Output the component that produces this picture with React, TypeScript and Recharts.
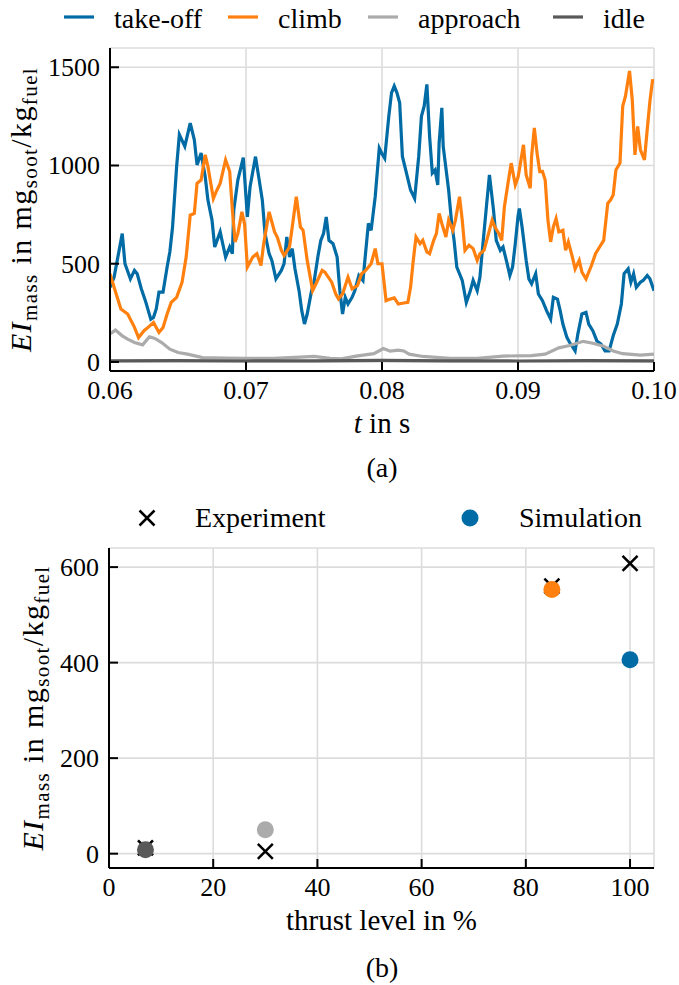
import React from "react";
import {
  LineChart,
  Line,
  XAxis,
  YAxis,
  CartesianGrid,
  ScatterChart,
  Scatter,
  Cell,
} from "recharts";

const FONT = "'Liberation Serif', 'Times New Roman', serif";
const TXT = { fontFamily: FONT };

// ---- (a) time series ----
const SERIES_NAMES = ["take-off", "climb", "approach", "idle"];
const SERIES_COLORS = ["#006BA4", "#FF800E", "#ABABAB", "#595959"];
const T_TICKS = [0.06, 0.07, 0.08, 0.09, 0.1];
const EI_TICKS_A = [0, 500, 1000, 1500];

// [t in s, EI in mg/kg]
const TAKE_OFF: [number, number][] = [
  [0.06, 380], [0.0603, 431], [0.0609, 653], [0.0611, 500], [0.0615, 423], [0.0618, 466],
  [0.062, 449], [0.0623, 373], [0.0626, 312], [0.063, 218], [0.0632, 227], [0.0634, 270],
  [0.0636, 355], [0.0639, 355], [0.0642, 483], [0.0644, 560], [0.0646, 687], [0.0649, 995],
  [0.0651, 1157], [0.0655, 1097], [0.0659, 1216], [0.0662, 1131], [0.0664, 1003], [0.0667, 1063],
  [0.067, 943], [0.0672, 824], [0.0675, 722], [0.0677, 585], [0.0681, 662], [0.0685, 534],
  [0.0688, 585], [0.069, 551], [0.0691, 773], [0.0694, 926], [0.0698, 1040], [0.0701, 738],
  [0.0703, 892], [0.0707, 1045], [0.0712, 824], [0.0714, 653], [0.0717, 551], [0.0719, 517],
  [0.0722, 423], [0.0726, 466], [0.0728, 500], [0.073, 636], [0.0732, 534], [0.0734, 577],
  [0.0736, 474], [0.0739, 363], [0.0741, 261], [0.0743, 193], [0.0745, 244], [0.0748, 355],
  [0.075, 406], [0.0753, 542], [0.0755, 619], [0.0757, 653], [0.0759, 738], [0.0761, 619],
  [0.0764, 602], [0.0767, 534], [0.0769, 363], [0.0771, 244], [0.0773, 329], [0.0775, 295],
  [0.0778, 329], [0.078, 363], [0.0783, 440], [0.0786, 415], [0.079, 705], [0.0792, 670],
  [0.0795, 841], [0.0798, 1088], [0.08, 1060], [0.0802, 1037], [0.0805, 1250], [0.0807, 1370],
  [0.0809, 1404], [0.0811, 1370], [0.0813, 1319], [0.0815, 1046], [0.0818, 961], [0.0821, 875],
  [0.0824, 832], [0.0827, 1046], [0.0829, 1250], [0.0831, 1302], [0.0833, 1413], [0.0835, 1148],
  [0.0837, 961], [0.0839, 977], [0.0841, 901], [0.0842, 1114], [0.0844, 1293], [0.0845, 1097],
  [0.0849, 875], [0.0851, 722], [0.0853, 619], [0.0855, 483], [0.0859, 415], [0.0862, 303],
  [0.0865, 363], [0.0867, 415], [0.087, 363], [0.0872, 431], [0.0874, 585], [0.0877, 807],
  [0.0879, 952], [0.0882, 773], [0.0884, 619], [0.0887, 568], [0.0889, 585], [0.0892, 500],
  [0.0894, 440], [0.0896, 483], [0.0898, 602], [0.09, 740], [0.0901, 781], [0.0903, 687],
  [0.0906, 517], [0.0908, 423], [0.091, 398], [0.0913, 449], [0.0915, 346], [0.0918, 312],
  [0.0921, 261], [0.0924, 218], [0.0926, 329], [0.0929, 320], [0.0931, 261], [0.0933, 193],
  [0.0936, 124], [0.0938, 99], [0.0942, 56], [0.0944, 142], [0.0947, 244], [0.095, 252],
  [0.0952, 193], [0.0955, 159], [0.0958, 107], [0.0961, 91], [0.0964, 56], [0.0967, 56],
  [0.097, 133], [0.0973, 193], [0.0976, 295], [0.0978, 449], [0.0981, 474], [0.0983, 406],
  [0.0985, 449], [0.0987, 380], [0.099, 406], [0.0992, 415], [0.0995, 440], [0.0997, 423],
  [0.1, 363],
];

const CLIMB: [number, number][] = [
  [0.06, 449], [0.0603, 380], [0.0608, 270], [0.0613, 244], [0.0618, 176], [0.0621, 124],
  [0.0625, 159], [0.0628, 176], [0.0632, 201], [0.0636, 150], [0.0639, 176], [0.0642, 244],
  [0.0645, 303], [0.0649, 329], [0.0653, 406], [0.0656, 534], [0.0659, 747], [0.0662, 756],
  [0.0664, 909], [0.0667, 926], [0.067, 1054], [0.0672, 995], [0.0676, 832], [0.0678, 866],
  [0.0681, 909], [0.0685, 1028], [0.0688, 969], [0.069, 773], [0.0692, 611], [0.0694, 653],
  [0.0697, 764], [0.0699, 700], [0.0701, 483], [0.0705, 534], [0.0708, 551], [0.0711, 491],
  [0.0713, 602], [0.0717, 764], [0.0721, 662], [0.0723, 636], [0.0726, 568], [0.0728, 542],
  [0.0732, 585], [0.0734, 687], [0.0737, 841], [0.074, 687], [0.0742, 670], [0.0745, 517],
  [0.0749, 363], [0.0752, 406], [0.0756, 466], [0.0758, 457], [0.0763, 406], [0.0766, 346],
  [0.0768, 321], [0.0771, 346], [0.0775, 431], [0.0778, 372], [0.0782, 389], [0.0785, 449],
  [0.0788, 466], [0.0792, 500], [0.0795, 577], [0.0797, 500], [0.08, 500], [0.0803, 312],
  [0.0806, 320], [0.0809, 326], [0.0812, 295], [0.0816, 300], [0.0819, 303], [0.0821, 380],
  [0.0823, 517], [0.0825, 636], [0.0828, 602], [0.083, 619], [0.0833, 560], [0.0835, 551],
  [0.0838, 619], [0.084, 653], [0.0842, 756], [0.0844, 705], [0.0847, 636], [0.0849, 722],
  [0.0852, 670], [0.0854, 722], [0.0857, 841], [0.0859, 722], [0.0861, 568], [0.0864, 594],
  [0.0867, 577], [0.087, 517], [0.0872, 551], [0.0875, 568], [0.0877, 619], [0.0881, 722],
  [0.0883, 687], [0.0886, 653], [0.0888, 619], [0.089, 790], [0.0893, 926], [0.0895, 1012],
  [0.0898, 901], [0.09, 940], [0.0901, 977], [0.0904, 1105], [0.0906, 952], [0.0909, 884],
  [0.091, 1046], [0.0912, 1191], [0.0914, 1063], [0.0916, 969], [0.0918, 970], [0.092, 926],
  [0.0922, 722], [0.0924, 611], [0.0926, 687], [0.0928, 730], [0.093, 662], [0.0933, 670],
  [0.0935, 568], [0.0937, 611], [0.094, 534], [0.0942, 474], [0.0945, 517], [0.0947, 457],
  [0.095, 423], [0.0954, 491], [0.0957, 551], [0.096, 585], [0.0963, 619], [0.0966, 807],
  [0.0968, 824], [0.097, 850], [0.0972, 977], [0.0975, 1012], [0.0977, 1302], [0.0979, 1353],
  [0.0982, 1481], [0.0984, 1336], [0.0986, 1054], [0.0988, 1199], [0.099, 1080], [0.0993, 1029],
  [0.0995, 1182], [0.0997, 1327], [0.0999, 1438], [0.1, 1420],
];

const APPROACH: [number, number][] = [
  [0.06, 142], [0.0604, 162], [0.0609, 133], [0.0613, 116], [0.0618, 99], [0.0624, 87],
  [0.0629, 128], [0.0633, 120], [0.0638, 99], [0.0644, 65], [0.065, 48], [0.0657, 40],
  [0.0668, 22], [0.0685, 20], [0.07, 18], [0.072, 18], [0.074, 25], [0.075, 28],
  [0.0762, 18], [0.077, 16], [0.0781, 30], [0.0794, 42], [0.0801, 68], [0.0806, 55],
  [0.0812, 60], [0.0816, 56], [0.082, 40], [0.083, 28], [0.085, 18], [0.087, 18],
  [0.0889, 30], [0.091, 32], [0.092, 40], [0.093, 72], [0.0938, 84], [0.0948, 105],
  [0.0955, 95], [0.0963, 80], [0.097, 56], [0.0977, 42], [0.099, 35], [0.1, 40],
];

const IDLE: [number, number][] = [
  [0.06, 6], [0.065, 7], [0.07, 5], [0.075, 6], [0.08, 8], [0.085, 6], [0.09, 5], [0.095, 7],
  [0.1, 6],
];

const SERIES_DATA = [TAKE_OFF, CLIMB, APPROACH, IDLE];

// ---- (b) thrust level comparison ----
const THRUST = [7, 30, 85, 100];
const EXPERIMENT = [12, 5, 560, 608];
const SIMULATION = [8, 50, 553, 406];
const SIM_COLORS = ["#595959", "#ABABAB", "#FF800E", "#006BA4"];
const THRUST_TICKS = [0, 20, 40, 60, 80, 100];
const EI_TICKS_B = [0, 200, 400, 600];

const W = 679;
const GRID = "#dcdcdc";

function BottomTick(props: any) {
  const { x, y, payload, fmt } = props;
  return (
    <g>
      <line x1={x} y1={y} x2={x} y2={y - 9} stroke="#000" strokeWidth={2} />
      <text x={x} y={y + 28} textAnchor="middle" style={TXT} fontSize={26} fill="#000">
        {fmt(payload.value)}
      </text>
    </g>
  );
}

function LeftTick(props: any) {
  const { x, y, payload } = props;
  return (
    <g>
      <line x1={x} y1={y} x2={x + 9} y2={y} stroke="#000" strokeWidth={2} />
      <text x={x - 10} y={y + 9} textAnchor="end" style={TXT} fontSize={26} fill="#000">
        {payload.value}
      </text>
    </g>
  );
}

function EiLabel({ viewBox, baseX }: any) {
  const cy = viewBox.y + viewBox.height / 2;
  return (
    <text
      x={baseX}
      y={cy}
      transform={`rotate(-90 ${baseX} ${cy})`}
      textAnchor="middle"
      style={{ ...TXT, letterSpacing: "1.4px" }}
      fontSize={30}
      fill="#000"
    >
      <tspan fontStyle="italic">EI</tspan>
      <tspan fontSize={21} dy={6}>mass</tspan>
      <tspan dy={-6}>{" in mg"}</tspan>
      <tspan fontSize={21} dy={6}>soot</tspan>
      <tspan dy={-6}>/kg</tspan>
      <tspan fontSize={21} dy={6}>fuel</tspan>
    </text>
  );
}

function XTitle({ viewBox, children }: any) {
  return (
    <text
      x={viewBox.x + viewBox.width / 2}
      y={viewBox.y + 62}
      textAnchor="middle"
      style={TXT}
      fontSize={29}
      fill="#000"
    >
      {children}
    </text>
  );
}

const LEGEND_A_LEFT = [64, 228, 368, 553];

function LegendA() {
  return (
    <svg width={W} height={40} style={{ position: "absolute", left: 0, top: 0 }}>
      {SERIES_NAMES.map((name, i) => (
        <g key={name}>
          <line
            x1={LEGEND_A_LEFT[i]}
            x2={LEGEND_A_LEFT[i] + 30}
            y1={17}
            y2={17}
            stroke={SERIES_COLORS[i]}
            strokeWidth={3.2}
          />
          <text x={LEGEND_A_LEFT[i] + 50} y={28} style={TXT} fontSize={28} fill="#000">
            {name}
          </text>
        </g>
      ))}
    </svg>
  );
}

function Cross({ cx, cy }: { cx: number; cy: number }) {
  const h = 7.5;
  return (
    <g>
      <line x1={cx - h} y1={cy - h} x2={cx + h} y2={cy + h} stroke="#000" strokeWidth={2.5} />
      <line x1={cx - h} y1={cy + h} x2={cx + h} y2={cy - h} stroke="#000" strokeWidth={2.5} />
    </g>
  );
}

function LegendB() {
  return (
    <svg width={W} height={40} style={{ position: "absolute", left: 0, top: 498 }}>
      <Cross cx={147} cy={20} />
      <text x={195} y={29} style={TXT} fontSize={28} fill="#000">
        Experiment
      </text>
      <circle cx={470} cy={20} r={8.5} fill={SERIES_COLORS[0]} />
      <text x={519} y={29} style={TXT} fontSize={28} fill="#000">
        Simulation
      </text>
    </svg>
  );
}

function Caption({ top, text }: { top: number; text: string }) {
  return (
    <div
      style={{
        position: "absolute",
        left: 110,
        width: 544,
        top,
        textAlign: "center",
        fontFamily: FONT,
        fontSize: 28,
        lineHeight: "30px",
      }}
    >
      {text}
    </div>
  );
}

export default function App(): React.JSX.Element {
  const expRows = THRUST.map((x, i) => ({ thrust: x, ei: EXPERIMENT[i] }));
  const simRows = THRUST.map((x, i) => ({ thrust: x, ei: SIMULATION[i] }));

  return (
    <div
      style={{
        position: "absolute",
        left: 0,
        top: 0,
        width: W,
        height: 985,
        background: "#fff",
        fontFamily: FONT,
      }}
    >
      <LegendA />
      <div style={{ position: "absolute", left: 0, top: 0 }}>
        <LineChart width={W} height={490} margin={{ top: 48, right: 25, bottom: 0, left: 0 }}>
          <CartesianGrid stroke={GRID} strokeWidth={1.6} />
          <XAxis
            dataKey="t"
            type="number"
            domain={[0.06, 0.1]}
            ticks={T_TICKS}
            allowDataOverflow
            height={119}
            tickSize={0}
            tickMargin={0}
            axisLine={{ stroke: "#000", strokeWidth: 2 }}
            tick={(p: any) => <BottomTick {...p} fmt={(v: number) => v.toFixed(2)} />}
            label={(p: any) => (
              <XTitle {...p}>
                <tspan fontStyle="italic">t</tspan>
                {" in s"}
              </XTitle>
            )}
          />
          <XAxis
            xAxisId="top"
            orientation="top"
            type="number"
            domain={[0.06, 0.1]}
            height={0}
            tick={false}
            tickLine={false}
            axisLine={{ stroke: "#000", strokeWidth: 2 }}
          />
          <YAxis
            type="number"
            domain={[-46, 1598]}
            ticks={EI_TICKS_A}
            allowDataOverflow
            width={110}
            tickSize={0}
            tickMargin={0}
            axisLine={{ stroke: "#000", strokeWidth: 2 }}
            tick={(p: any) => <LeftTick {...p} />}
            label={(p: any) => <EiLabel {...p} baseX={31} />}
          />
          <YAxis
            yAxisId="right"
            orientation="right"
            type="number"
            domain={[-46, 1598]}
            width={0}
            tick={false}
            tickLine={false}
            axisLine={{ stroke: "#000", strokeWidth: 2 }}
          />
          {SERIES_DATA.map((rows, i) => (
            <Line
              key={SERIES_NAMES[i]}
              data={rows.map(([t, ei]) => ({ t, ei }))}
              dataKey="ei"
              type="linear"
              stroke={SERIES_COLORS[i]}
              strokeWidth={3.2}
              dot={false}
              isAnimationActive={false}
            />
          ))}
        </LineChart>
      </div>
      <Caption top={453} text="(a)" />

      <LegendB />
      <div style={{ position: "absolute", left: 0, top: 470 }}>
        <ScatterChart width={W} height={515} margin={{ top: 78, right: 25, bottom: 0, left: 0 }}>
          <CartesianGrid stroke={GRID} strokeWidth={1.6} />
          <XAxis
            dataKey="thrust"
            type="number"
            domain={[0, 104.6]}
            ticks={THRUST_TICKS}
            allowDataOverflow
            height={117}
            tickSize={0}
            tickMargin={0}
            axisLine={{ stroke: "#000", strokeWidth: 2 }}
            tick={(p: any) => <BottomTick {...p} fmt={(v: number) => String(v)} />}
            label={(p: any) => <XTitle {...p}>thrust level in %</XTitle>}
          />
          <XAxis
            xAxisId="top"
            orientation="top"
            type="number"
            domain={[0, 104.6]}
            height={0}
            tick={false}
            tickLine={false}
            axisLine={{ stroke: "#000", strokeWidth: 2 }}
          />
          <YAxis
            dataKey="ei"
            type="number"
            domain={[-30, 640]}
            ticks={EI_TICKS_B}
            allowDataOverflow
            width={109}
            tickSize={0}
            tickMargin={0}
            axisLine={{ stroke: "#000", strokeWidth: 2 }}
            tick={(p: any) => <LeftTick {...p} />}
            label={(p: any) => <EiLabel {...p} baseX={43} />}
          />
          <YAxis
            yAxisId="right"
            orientation="right"
            type="number"
            domain={[-30, 640]}
            width={0}
            tick={false}
            tickLine={false}
            axisLine={{ stroke: "#000", strokeWidth: 2 }}
          />
          <Scatter
            data={expRows}
            isAnimationActive={false}
            shape={(p: any) => <Cross cx={p.cx} cy={p.cy} />}
          />
          <Scatter
            data={simRows}
            isAnimationActive={false}
            shape={(p: any) => <circle cx={p.cx} cy={p.cy} r={8.5} fill={p.fill} />}
          >
            {SIM_COLORS.map((c, i) => (
              <Cell key={i} fill={c} />
            ))}
          </Scatter>
        </ScatterChart>
      </div>
      <Caption top={953} text="(b)" />
    </div>
  );
}
